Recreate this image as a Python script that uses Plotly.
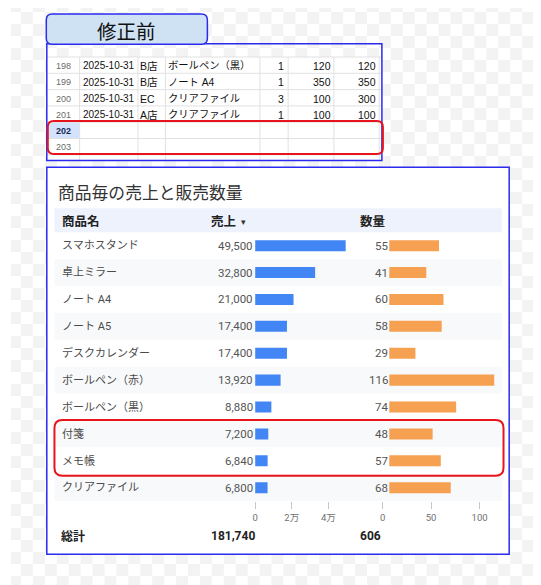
import base64
import plotly.graph_objects as go

W, H = 541, 585          # screenshot size
OFF = 8                  # page body margin
FW, FH = W - OFF, H - OFF  # figure size

# ---------------- data: spreadsheet excerpt ----------------
sheet_rows = [198, 199, 200, 201, 202, 203]
sheet_dates = ["2025-10-31", "2025-10-31", "2025-10-31", "2025-10-31"]
sheet_stores = ["B店", "B店", "EC", "A店"]
sheet_items = ["ボールペン（黒）", "ノート A4", "クリアファイル", "クリアファイル"]
sheet_qty = [1, 1, 3, 1]
sheet_price = [120, 350, 100, 100]
sheet_amount = [120, 350, 300, 100]

# ---------------- data: table chart ----------------
products = ["スマホスタンド", "卓上ミラー", "ノート A4", "ノート A5", "デスクカレンダー",
            "ボールペン（赤）", "ボールペン（黒）", "付箋", "メモ帳", "クリアファイル"]
sales = [49500, 32800, 21000, 17400, 17400, 13920, 8880, 7200, 6840, 6800]
quantities = [55, 41, 60, 58, 29, 116, 74, 48, 57, 68]
sales_ticks = [0, 20000, 40000]
sales_tick_labels = ["0", "2万", "4万"]
qty_ticks = [0, 50, 100]
qty_tick_labels = ["0", "50", "100"]

title_badge = "修正前"
chart_title = "商品毎の売上と販売数量"
header_labels = ["商品名", "売上", "数量"]
total_label = "総計"

# ---------------- helpers ----------------
CJK = "Noto Sans CJK JP"
SHEET_FONT = "Liberation Sans, Arial, " + CJK
CHART_FONT = "Roboto, " + CJK


def fx(x):
    return (x - OFF) / FW


def fy(y):
    return 1 - (y - OFF) / FH


def rrect(x0, y0, x1, y1, r):
    P = lambda x, y: f"{fx(x):.5f},{fy(y):.5f}"
    return (f"M {P(x0 + r, y0)} L {P(x1 - r, y0)} Q {P(x1, y0)} {P(x1, y0 + r)} "
            f"L {P(x1, y1 - r)} Q {P(x1, y1)} {P(x1 - r, y1)} L {P(x0 + r, y1)} "
            f"Q {P(x0, y1)} {P(x0, y1 - r)} L {P(x0, y0 + r)} Q {P(x0, y0)} {P(x0 + r, y0)} Z")


shapes = []
annotations = []


def ann(text, x, y, size, color="#000", anchor="left", weight="normal", family=CHART_FONT,
        xref="paper", yref="paper", xshift=0):
    annotations.append(dict(
        text=text, x=x if xref != "paper" else fx(x), y=y if yref != "paper" else fy(y),
        xref=xref, yref=yref, xanchor=anchor, yanchor="middle", showarrow=False,
        xshift=xshift, borderpad=0, borderwidth=0,
        font=dict(size=size, color=color, family=family, weight=weight)))


def line(x0, y0, x1, y1, color, width=1, layer="above"):
    shapes.append(dict(type="line", xref="paper", yref="paper", x0=fx(x0), y0=fy(y0),
                       x1=fx(x1), y1=fy(y1), line=dict(color=color, width=width), layer=layer))


def rect(x0, y0, x1, y1, fill, color=None, width=0, layer="below"):
    shapes.append(dict(type="rect", xref="paper", yref="paper", x0=fx(x0), y0=fy(y0),
                       x1=fx(x1), y1=fy(y1), fillcolor=fill,
                       line=dict(color=color or "rgba(0,0,0,0)", width=width), layer=layer))


# ---------------- transparent-background checkerboard ----------------
checker_svg = (
    f'<svg xmlns="http://www.w3.org/2000/svg" width="{FW}" height="{FH}">'
    f'<defs><pattern id="c" x="-2" y="-8" width="24" height="24" patternUnits="userSpaceOnUse">'
    f'<rect x="0" y="0" width="12" height="12" fill="#f3f3f3"/>'
    f'<rect x="12" y="12" width="12" height="12" fill="#f3f3f3"/></pattern></defs>'
    f'<rect width="{FW}" height="{FH}" fill="white"/>'
    f'<rect width="{FW}" height="{FH}" fill="url(#c)"/></svg>'
)
checker_src = "data:image/svg+xml;base64," + base64.b64encode(checker_svg.encode()).decode()

# white panel backgrounds
rect(44, 57, 381, 160.5, "white")
rect(44, 167.3, 509, 554.3, "white")

# ---------------- spreadsheet excerpt ----------------
row_lines = [57, 73.3, 89.6, 105.9, 122.2, 138.5, 154.8]
col_lines = [77, 135.7, 163.3, 258.3, 286.7, 332.7, 378.3]
GRID = "#e1e1e1"

rect(45, 122.2, 77, 138.5, "#d3e3fd")
for yl in row_lines:
    line(44, yl, 381, yl, GRID)
for xl in col_lines:
    line(xl, 57, xl, 160, GRID)

for i, rn in enumerate(sheet_rows):
    yc = (row_lines[i] + row_lines[i + 1]) / 2 + 0.8
    if rn == 202:
        ann(str(rn), 60.5, yc, 9, "#1b2a55", "center", "bold", SHEET_FONT)
    else:
        ann(str(rn), 60.5, yc, 9, "#6b6b6b", "center", "normal", SHEET_FONT)

for i in range(len(sheet_dates)):
    yc = (row_lines[i] + row_lines[i + 1]) / 2 + 0.8
    ann(sheet_dates[i], 80.5, yc, 10, "#111", "left", family=SHEET_FONT)
    ann(sheet_stores[i], 138, yc, 10.5, "#111", "left", family=SHEET_FONT)
    ann(sheet_items[i], 166, yc, 10.3, "#111", "left", family=SHEET_FONT)
    ann(str(sheet_qty[i]), 283, yc, 10.5, "#111", "right", family=SHEET_FONT)
    ann(str(sheet_price[i]), 330, yc, 10.5, "#111", "right", family=SHEET_FONT)
    ann(str(sheet_amount[i]), 375.5, yc, 10.5, "#111", "right", family=SHEET_FONT)

BLUE = "#2b2bf0"
RED = "#e8141c"
# spreadsheet border
rect(44, 43.8, 381, 160.5, "rgba(0,0,0,0)", BLUE, 1.5, "above")
# red highlight in spreadsheet
shapes.append(dict(type="path", path=rrect(45, 121, 382, 154, 6), xref="paper", yref="paper",
                   line=dict(color=RED, width=2), fillcolor="rgba(0,0,0,0)", layer="above"))
# badge
shapes.append(dict(type="path", path=rrect(43.5, 14, 205.5, 44.3, 6), xref="paper", yref="paper",
                   line=dict(color=BLUE, width=1.5), fillcolor="#cfe2f3", layer="above"))
ann(title_badge, 124, 30, 19.5, "#111", "center", family=CJK)

# ---------------- chart panel ----------------
rect(44, 167.3, 509, 554.3, "rgba(0,0,0,0)", BLUE, 1.5, "above")
ann(chart_title, 55.5, 193, 16.8, "#333", "left", family=CHART_FONT)

# header band
rect(51.7, 208.3, 501.7, 232.3, "#edf2fc")
ann(header_labels[0], 59, 221.5, 12.5, "#222", "left", "bold")
ann(header_labels[1], 209, 221.5, 12.5, "#222", "left", "bold")
ann("▾", 241.5, 221.5, 9, "#333", "center")
ann(header_labels[2], 359, 221.5, 12.5, "#222", "left", "bold")

# alternating row bands
for i in range(len(products)):
    if i % 2 == 1:
        shapes.append(dict(type="rect", xref="paper", yref="y", x0=fx(51.7), x1=fx(501.7),
                           y0=i - 0.5, y1=i + 0.5, fillcolor="#f8f9fa",
                           line=dict(width=0), layer="below"))

for i, name in enumerate(products):
    ann(name, 59, name, 11, "#4a4a4a", "left", yref="y")
    ann(f"{sales[i]:,}", 0, name, 11.5, "#555", "right", xref="x", yref="y", xshift=-2.5)
    ann(f"{quantities[i]:,}", 0, name, 11.5, "#555", "right", xref="x2", yref="y", xshift=-1.5)

# totals
ann(total_label, 58, 536.3, 12, "#222", "left", "bold")
ann(f"{sum(sales):,}", 209.3, 536.3, 12, "#222", "left", "bold")
ann(f"{sum(quantities):,}", 359, 536.3, 12, "#222", "left", "bold")

# red highlight around two rows
shapes.append(dict(type="path", path=rrect(51.7, 420, 503.3, 475.7, 8), xref="paper", yref="paper",
                   line=dict(color=RED, width=2), fillcolor="rgba(0,0,0,0)", layer="above"))

# ---------------- bars ----------------
fig = go.Figure()
fig.add_trace(go.Bar(x=sales, y=products, orientation="h", xaxis="x", yaxis="y",
                     marker=dict(color="#4285f4", line=dict(width=0)), width=0.41,
                     showlegend=False, hoverinfo="skip"))
fig.add_trace(go.Bar(x=quantities, y=products, orientation="h", xaxis="x2", yaxis="y",
                     marker=dict(color="#f6a052", line=dict(width=0)), width=0.41,
                     showlegend=False, hoverinfo="skip"))
fig.add_trace(go.Scatter(x=[None], y=[None], xaxis="x3", yaxis="y", mode="markers",
                         showlegend=False, hoverinfo="skip"))

row_top, row_bot = 232.26, 501.1
tick_common = dict(showgrid=False, zeroline=False, showline=False, ticks="outside",
                   ticklen=7, tickwidth=1, tickcolor="#c8c8c8",
                   tickfont=dict(size=9.5, color="#707070", family=CHART_FONT),
                   fixedrange=True)

fig.update_layout(
    width=FW, height=FH, autosize=False,
    margin=dict(l=0, r=0, t=0, b=0),
    paper_bgcolor="white", plot_bgcolor="rgba(0,0,0,0)",
    barmode="overlay",
    images=[dict(source=checker_src, xref="paper", yref="paper", x=0, y=1,
                 sizex=1, sizey=1, sizing="stretch", xanchor="left", yanchor="top",
                 layer="below")],
    xaxis=dict(domain=[fx(253.5), fx(345.5)], range=[0, 50000], anchor="y",
               tickmode="array", tickvals=sales_ticks, ticktext=sales_tick_labels, **tick_common),
    xaxis2=dict(domain=[fx(388.3), fx(497.6)], range=[0, 120], anchor="y",
                showticklabels=False, showgrid=False, zeroline=False, showline=False,
                ticks="", fixedrange=True),
    xaxis3=dict(domain=[fx(381.7), fx(498.8)], range=[0, 120], anchor="y",
                tickmode="array", tickvals=qty_ticks, ticktext=qty_tick_labels, **tick_common),
    yaxis=dict(domain=[fy(row_bot), fy(row_top)], type="category",
               categoryorder="array", categoryarray=products,
               range=[len(products) - 0.5, -0.5], showticklabels=False,
               showgrid=False, zeroline=False, showline=False, ticks="", fixedrange=True),
    shapes=shapes,
    annotations=annotations,
)

fig.write_html("out.html")
